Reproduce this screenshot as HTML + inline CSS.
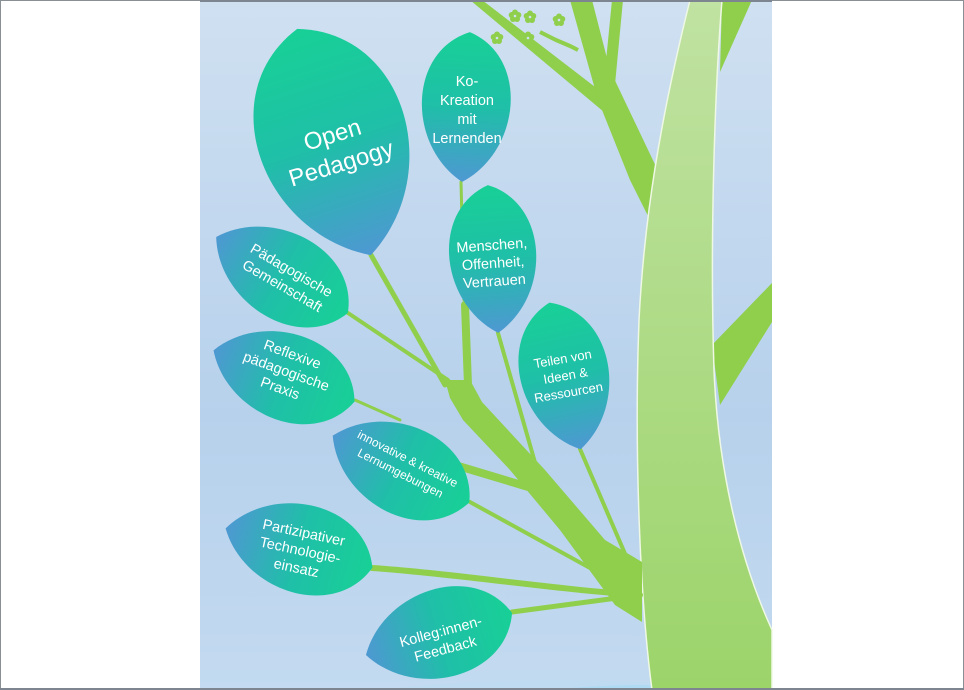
<!DOCTYPE html>
<html><head><meta charset="utf-8"><style>
html,body{margin:0;padding:0;background:#fff;overflow:hidden;width:964px;height:690px;}
svg{display:block;}
text{font-family:"Liberation Sans",sans-serif;fill:#fff;text-anchor:middle;}
</style></head><body>
<svg width="964" height="690" viewBox="0 0 964 690" xmlns="http://www.w3.org/2000/svg">
<defs>
<linearGradient id="bg" x1="0" y1="0" x2="0" y2="1">
<stop offset="0" stop-color="#cfe0f1"/><stop offset="0.6" stop-color="#b7d1ec"/><stop offset="1" stop-color="#c3daf0"/>
</linearGradient>
<linearGradient id="lt" x1="0" y1="0" x2="1" y2="0">
<stop offset="0" stop-color="#18d096"/><stop offset="0.5" stop-color="#1fbfa8"/><stop offset="1" stop-color="#4e98d2"/>
</linearGradient>
<linearGradient id="tr" x1="0" y1="0" x2="0" y2="1">
<stop offset="0" stop-color="#c0e2a2"/><stop offset="1" stop-color="#9cd46a"/>
</linearGradient>
<path id="leaf" d="M-1,0 C-0.7,-1.2 0.55,-1.12 1,0 C0.55,1.12 -0.7,1.2 -1,0Z"/>
<g id="fl"><circle cx="0" cy="-3.5" r="3"/><circle cx="3.3" cy="-1" r="3"/><circle cx="2" cy="3" r="3"/><circle cx="-2" cy="3" r="3"/><circle cx="-3.3" cy="-1" r="3"/></g>
</defs>
<rect x="0" y="0" width="964" height="690" fill="#fff"/>
<rect x="200" y="0" width="572" height="690" fill="url(#bg)"/>
<ellipse cx="560" cy="740" rx="320" ry="60" fill="#bcdcf2" opacity="0.6"/>
<ellipse cx="640" cy="735" rx="200" ry="50" fill="#a8daf3" opacity="0.7"/>

<!-- top branches -->
<g fill="#8fcf4b">
<polygon points="470,0 482,0 612,100 604,112"/>
<polygon points="570,0 592,0 610,70 660,175 655,230 630,180 598,100"/>
<polygon points="612,0 623,0 614,95 603,92"/>
<polygon points="722,0 752,0 720,72"/>
<polygon points="712,345 772,283 772,322 720,405"/>
<use href="#fl" x="497" y="38"/><use href="#fl" x="515" y="16"/><use href="#fl" x="530" y="17"/>
<use href="#fl" x="528" y="38"/><use href="#fl" x="559" y="20"/>
</g>
<polyline points="540,32 556,40 570,46 578,50" stroke="#8fcf4b" stroke-width="4" fill="none"/>
<g fill="#cfe0f1"><circle cx="497" cy="38" r="1.3"/><circle cx="515" cy="16" r="1.3"/><circle cx="530" cy="17" r="1.3"/><circle cx="528" cy="38" r="1.3"/><circle cx="559" cy="20" r="1.3"/></g>

<!-- trunk -->
<path d="M690,0 L722,0 C714,100 710,250 714,370 C718,470 740,560 772,630 L772,690 L652,690 C640,600 634,450 639,320 C644,220 660,120 690,0Z" fill="url(#tr)" stroke="#eef8e4" stroke-width="1.5"/>

<!-- left branches -->
<g stroke="#8fcf4b" fill="none" stroke-linecap="round">
<path d="M445,385 L371,255" stroke-width="5"/>
<path d="M448,380 L348,313" stroke-width="4"/>
<path d="M468,385 L465,305" stroke-width="8"/>
<path d="M464,300 L461,182" stroke-width="3"/>
<path d="M540,480 L498,333" stroke-width="4"/>
<path d="M632,570 L580,449" stroke-width="4"/>
<path d="M555,495 L455,465" stroke-width="8"/>
<path d="M400,420 L355,400" stroke-width="3"/>
<path d="M630,590 L470,502" stroke-width="4"/>
<path d="M640,595 C560,590 440,572 372,568" stroke-width="6"/>
<path d="M640,595 L512,612" stroke-width="5"/>
</g>
<polygon points="445,380 470,380 482,402 545,470 605,540 642,562 642,622 615,605 560,530 510,470 463,420 450,398" fill="#8fcf4b"/>

<!-- leaves -->
<g transform="translate(334,142) rotate(72) scale(119,86)"><use href="#leaf" fill="url(#lt)"/></g>
<g transform="translate(466,107) rotate(93) scale(75,51)"><use href="#leaf" fill="url(#lt)"/></g>
<g transform="translate(493,259) rotate(86) scale(74,50)"><use href="#leaf" fill="url(#lt)"/></g>
<g transform="translate(565,376) rotate(78) scale(75,51)"><use href="#leaf" fill="url(#lt)"/></g>
<g transform="translate(282,275) rotate(30) scale(-76,50)"><use href="#leaf" fill="url(#lt)"/></g>
<g transform="translate(284,376) rotate(20) scale(-75,50)"><use href="#leaf" fill="url(#lt)"/></g>
<g transform="translate(401,469) rotate(26) scale(-76,51)"><use href="#leaf" fill="url(#lt)"/></g>
<g transform="translate(299,548) rotate(15) scale(-76,51)"><use href="#leaf" fill="url(#lt)"/></g>
<g transform="translate(439,634) rotate(-16) scale(-76,51)"><use href="#leaf" fill="url(#lt)"/></g>

<!-- labels -->
<g transform="translate(337,150) rotate(-17)" font-size="24"><text x="0" y="-8">Open</text><text x="0" y="22">Pedagogy</text></g>
<g font-size="14.5"><text x="467" y="86">Ko-</text><text x="467" y="105">Kreation</text><text x="467" y="124">mit</text><text x="467" y="143">Lernenden</text></g>
<g transform="translate(493,262) rotate(-4)" font-size="14.5"><text x="0" y="-12">Menschen,</text><text x="0" y="6">Offenheit,</text><text x="0" y="24">Vertrauen</text></g>
<g transform="translate(566,378) rotate(-10)" font-size="13"><text x="0" y="-15">Teilen von</text><text x="0" y="2">Ideen &amp;</text><text x="0" y="19">Ressourcen</text></g>
<g transform="translate(287,278) rotate(30)" font-size="14.5"><text x="0" y="-4">Pädagogische</text><text x="0" y="14">Gemeinschaft</text></g>
<g transform="translate(286,372) rotate(20)" font-size="14.5"><text x="0" y="-14">Reflexive</text><text x="0" y="4">pädagogische</text><text x="0" y="22">Praxis</text></g>
<g transform="translate(404,466) rotate(27)" font-size="12"><text x="0" y="-4">innovative &amp; kreative</text><text x="0" y="12">Lernumgebungen</text></g>
<g transform="translate(300,551) rotate(12)" font-size="14.5"><text x="0" y="-14">Partizipativer</text><text x="0" y="4">Technologie-</text><text x="0" y="22">einsatz</text></g>
<g transform="translate(443,640) rotate(-15)" font-size="14.5"><text x="0" y="-4">Kolleg:innen-</text><text x="0" y="14">Feedback</text></g>

<rect x="0.5" y="0.5" width="963" height="689" fill="none" stroke="#8a8f96" stroke-width="1"/>
<line x1="200" y1="1" x2="772" y2="1" stroke="#7d8690" stroke-width="2"/>
<line x1="0" y1="689" x2="964" y2="689" stroke="#7d8690" stroke-width="2"/>
</svg>
</body></html>
